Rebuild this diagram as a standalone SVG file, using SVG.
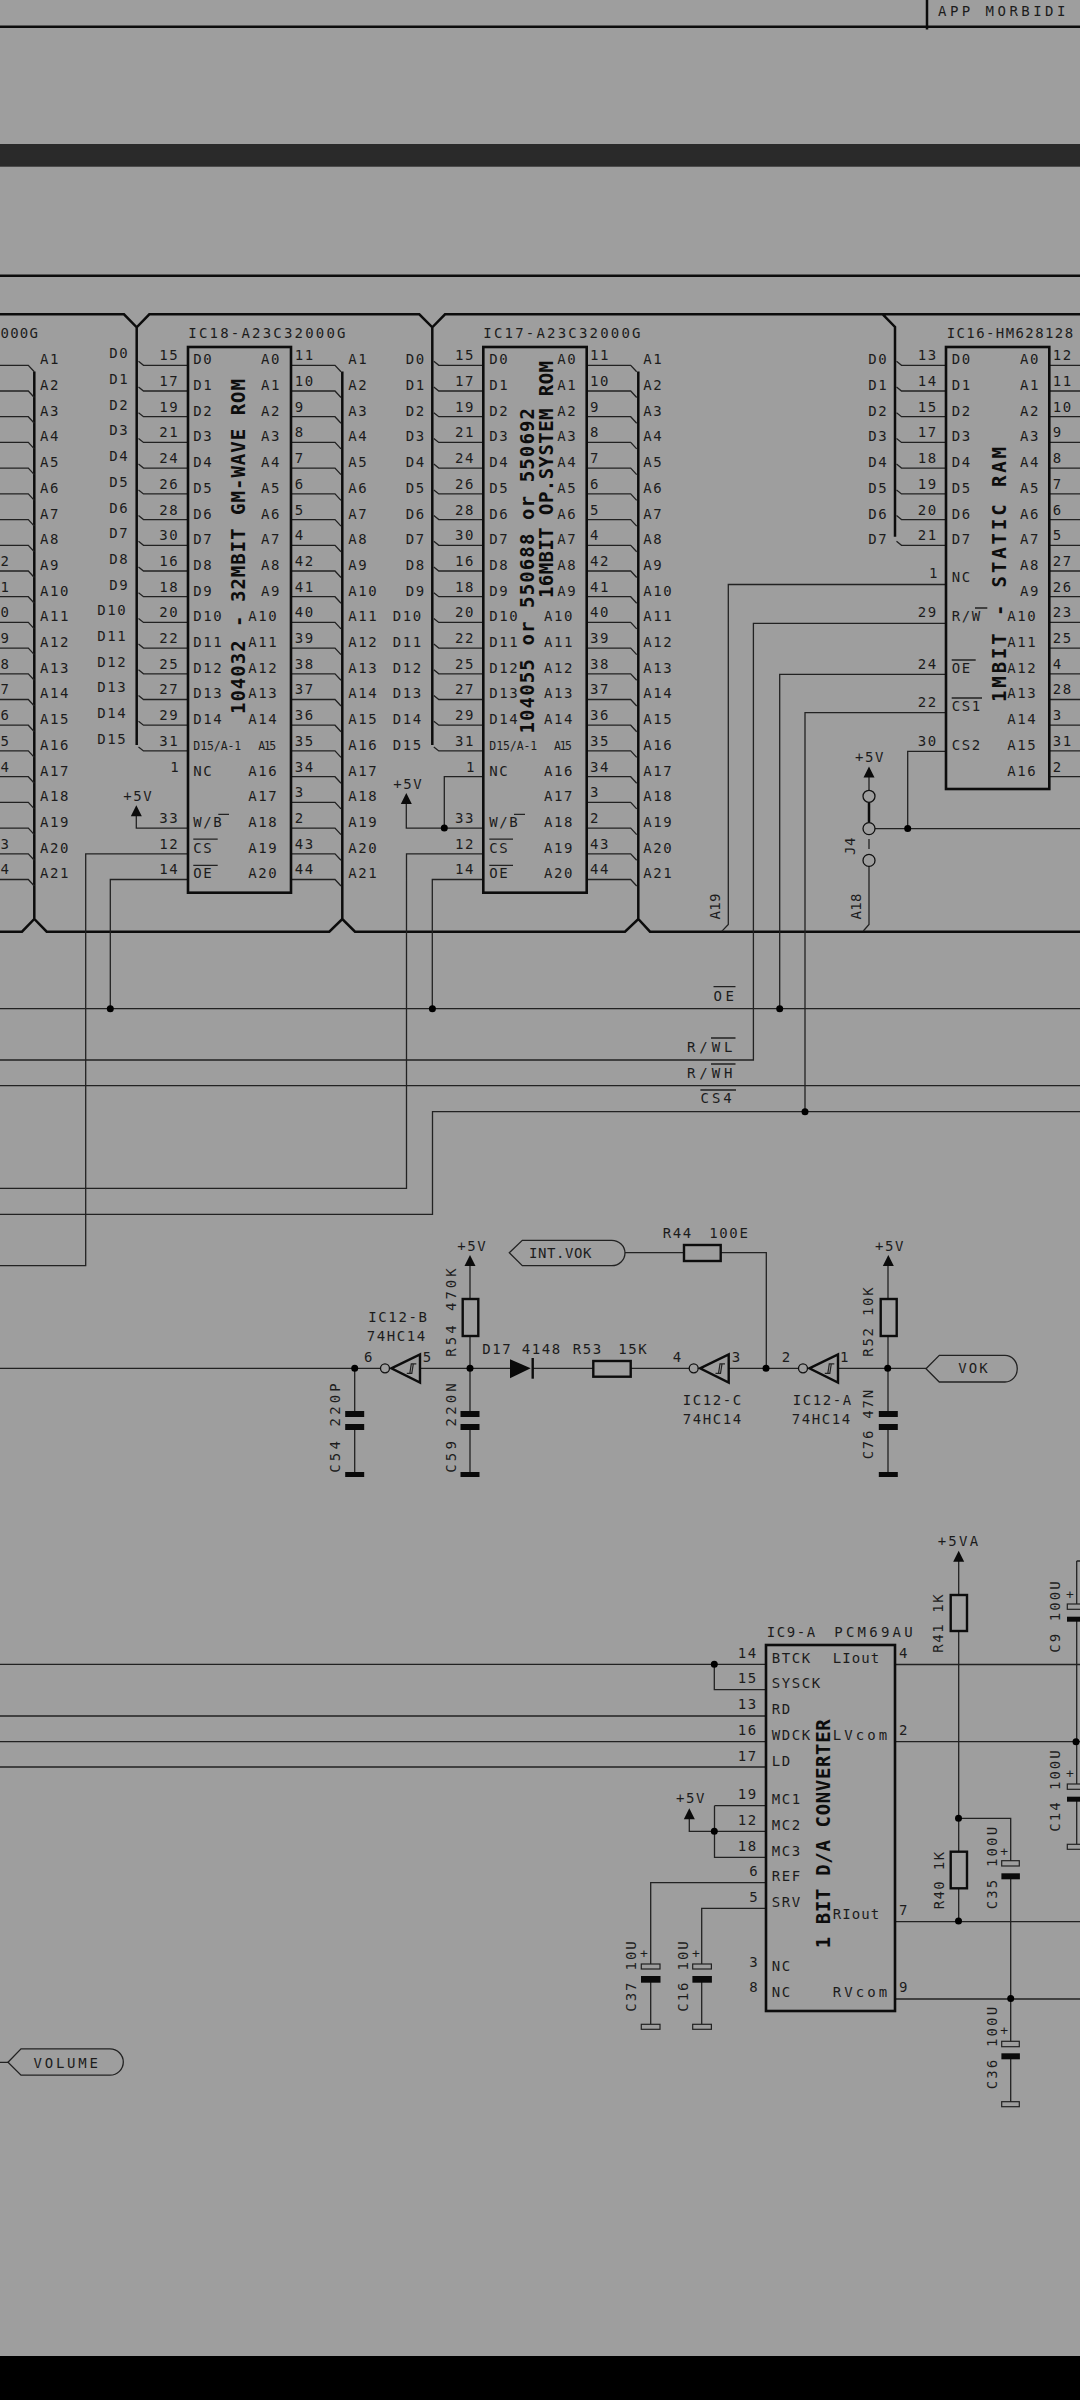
<svg xmlns="http://www.w3.org/2000/svg" xmlns:xlink="http://www.w3.org/1999/xlink" width="1080" height="2400" viewBox="0 0 1080 2400">
<style>
text{font-family:"DejaVu Sans Mono","Liberation Mono",monospace;font-size:14px;letter-spacing:1.6px;fill:#1c1c1c}
.s{font-size:11.5px;letter-spacing:0}
.v{font-size:19px;font-weight:bold;letter-spacing:0;fill:#0d0d0d}
.w{fill:none;stroke:#222;stroke-width:1.3}
.b{fill:none;stroke:#0c0c0c;stroke-width:2.5}
.box{fill:none;stroke:#0c0c0c;stroke-width:2.6}
.r{fill:none;stroke:#0c0c0c;stroke-width:2.4}
.d{fill:#000}
.o{fill:none;stroke:#111;stroke-width:1.3}
.p{fill:#0a0a0a}
.h{fill:none;stroke:#222;stroke-width:1.2}
</style>
<defs>
<path id="pins-r" class="w" d="M0 365.3h44l6 6.5M0 391h44l6 6.5M0 416.7h44l6 6.5M0 442.4h44l6 6.5M0 468.1h44l6 6.5M0 493.9h44l6 6.5M0 519.6h44l6 6.5M0 545.3h44l6 6.5M0 571h44l6 6.5M0 596.7h44l6 6.5M0 622.4h44l6 6.5M0 648.1h44l6 6.5M0 673.8h44l6 6.5M0 699.5h44l6 6.5M0 725.2h44l6 6.5M0 750.9h44l6 6.5M0 776.7h44l6 6.5M0 802.4h44l6 6.5M0 828.1h44l6 6.5M0 853.8h44l6 6.5M0 879.5h44l6 6.5"/>
<path id="pins-l" class="w" d="M0 361.3l5 4h44.5M0 387l5 4h44.5M0 412.7l5 4h44.5M0 438.4l5 4h44.5M0 464.1l5 4h44.5M0 489.9l5 4h44.5M0 515.6l5 4h44.5M0 541.3l5 4h44.5M0 567l5 4h44.5M0 592.7l5 4h44.5M0 618.4l5 4h44.5M0 644.1l5 4h44.5M0 669.8l5 4h44.5M0 695.5l5 4h44.5M0 721.2l5 4h44.5M0 746.9l5 4h44.5"/>
<g id="inv"><polygon class="r" points="0,0 28.7,-14 28.7,14.3"/><circle class="o" cx="-6.3" r="4.5"/><path class="h" d="M15.5 5H20.5L22-4.5M18.5 5L20-4.5H25"/></g>
<path id="up" class="p" d="M0 0l5.5 11h-11z"/>
</defs>
<rect width="1080" height="2400" fill="#9e9e9e"/>
<rect y="144" width="1080" height="22.7" fill="#2a2a2a"/>
<rect y="2356" width="1080" height="44" fill="#000"/>
<path class="b" d="M0 26.7H1080M927 0V29.5M0 275.7H1080"/>
<text x="938" y="15.5" textLength="129">APP MORBIDI</text>

<g id="connectors">
<path class="b" d="M0 314.3H124L136.7 327.3L149.3 314.3H419.3L432.3 327.3L445 314.3H1080M882.7 314.3L895 327V536.7M136.7 327.3V745M432.3 327.3V745M34.3 371.4V919M342.3 371.4V919M638.3 371.4V919M0 931.7H22L34.3 919L46.7 931.7H329.3L342.3 919L355 931.7H625L638.3 919L650 931.7H1080"/>
<use href="#pins-r" x="-15.7"/>
<use href="#pins-r" x="291"/>
<use href="#pins-r" x="586.7"/>
<use href="#pins-l" x="138.5"/>
<use href="#pins-l" x="433.8"/>
<path class="w" d="M896.5 361.3l5 4H946M896.5 387l5 4H946M896.5 412.7l5 4H946M896.5 438.4l5 4H946M896.5 464.1l5 4H946M896.5 489.9l5 4H946M896.5 515.6l5 4H946M896.5 541.3l5 4H946"/>
<path class="w" d="M1049 365.3H1080M1049 391H1080M1049 416.7H1080M1049 442.4H1080M1049 468.1H1080M1049 493.9H1080M1049 519.6H1080M1049 545.3H1080M1049 571H1080M1049 596.7H1080M1049 622.4H1080M1049 648.1H1080M1049 673.8H1080M1049 699.5H1080M1049 725.2H1080M1049 750.9H1080M1049 776.7H1080"/>
<path class="w" d="M136.3 816V828.1H188M188 853.8H85.7V1265.7H0M188 879.5H110.3V1008.7"/>
<path class="w" d="M406.3 804V828.1H483.3M444.3 828.1V776.7H483.3M483.3 853.8H406.5V1188.3H0M483.3 879.5H432.3V1008.7"/>
<path class="w" d="M945 584.5H728.3V924.5L721.7 931.4M945 623.3H753.4V1060H0M945 674.3H779.7V1008.7M945 712.7H805V1111.7M0 1008.7H1080M0 1085.7H1080M1080 1111.7H432.5V1214.3H0"/>
<path class="w" d="M869 777V790.3M869 866.4V924.5L863.3 931M875 828.6H1080M907.7 828.6V751.4H946M869 839V849"/>
<path class="b" d="M869 802.3V822.6"/>
<path class="w" d="M0 1368.3H380.5M420 1368.3H510M532 1368.3H593.3M630.7 1368.3H689M728.3 1368.3H798M837.7 1368.3H926M470 1266V1299M470 1336V1413M470 1427V1474M354.7 1368.3V1413M354.7 1427V1474M888 1266V1299M888 1336V1413M888 1427V1474M625 1252.7H684M720.7 1252.7H766.3V1368.3"/>
<path class="w" d="M0 1664.3H766M714.3 1664.3V1689.7H766M0 1716H766M0 1741.7H766M0 1767H766M714.5 1805.7H766M714.5 1805.7V1857.3H766M689.3 1819V1831.3H766M766 1882.7H650.7V1964M650.7 1980V2024M766 1908.3H701.7V1964M701.7 1980V2024"/>
<path class="w" d="M895 1664.5H1080M895 1741.7H1080M895 1921.7H1080M895 1999H1080M958.7 1561V1595M958.7 1631V1851.7M958.7 1888.3V1921M958.7 1818.3H1010.7V1861M1010.7 1879V2041.3M1010.7 2059V2101.7M1076.7 1561H1080M1076.7 1561V1604M1076.7 1621V1784M1076.7 1801V1844.3M0 2062.3H8"/>
<circle class="d" cx="110.3" cy="1008.7" r="3.5"/>
<circle class="d" cx="432.4" cy="1008.7" r="3.5"/>
<circle class="d" cx="779.7" cy="1008.7" r="3.5"/>
<circle class="d" cx="805" cy="1111.7" r="3.5"/>
<circle class="d" cx="444.3" cy="828.1" r="3.5"/>
<circle class="d" cx="907.7" cy="828.6" r="3.5"/>
<circle class="d" cx="354.7" cy="1368.3" r="3.5"/>
<circle class="d" cx="470" cy="1368.3" r="3.5"/>
<circle class="d" cx="766" cy="1368.3" r="3.5"/>
<circle class="d" cx="887.7" cy="1368.3" r="3.5"/>
<circle class="d" cx="714.3" cy="1664.3" r="3.5"/>
<circle class="d" cx="714.3" cy="1831.3" r="3.5"/>
<circle class="d" cx="958.5" cy="1818.3" r="3.5"/>
<circle class="d" cx="958.5" cy="1921" r="3.5"/>
<circle class="d" cx="1010.7" cy="1998.5" r="3.5"/>
<circle class="d" cx="1076" cy="1741.7" r="3.5"/>
</g>

<g id="ic19-part">
<text x="0.5" y="338" textLength="39">000G</text>
<g transform="translate(0.5 0)"><text y="566">2</text><text y="592">1</text><text y="617">0</text><text y="643">9</text><text y="669">8</text><text y="694">7</text><text y="720">6</text><text y="746">5</text><text y="772">4</text><text y="849">3</text><text y="874">4</text></g>
<g transform="translate(40 0)"><text y="364">A1</text><text y="390">A2</text><text y="416">A3</text><text y="441">A4</text><text y="467">A5</text><text y="493">A6</text><text y="519">A7</text><text y="544">A8</text><text y="570">A9</text><text y="596">A10</text><text y="621">A11</text><text y="647">A12</text><text y="673">A13</text><text y="698">A14</text><text y="724">A15</text><text y="750">A16</text><text y="776">A17</text><text y="801">A18</text><text y="827">A19</text><text y="853">A20</text><text y="878">A21</text></g>
</g>

<g id="ic18">
<rect class="box" x="188" y="347" width="103" height="545.7"/>
<text x="188.3" y="338" style="letter-spacing:2.2px">IC18-A23C32000G</text>
<text class="v" transform="translate(245 714) rotate(-90)" textLength="335">104032 - 32MBIT GM-WAVE ROM</text>
<g transform="translate(109.3 0)"><text y="358">D0</text><text y="384">D1</text><text y="410">D2</text><text y="435">D3</text><text y="461">D4</text><text y="487">D5</text><text y="513">D6</text><text y="538">D7</text><text y="564">D8</text><text y="590">D9</text></g>
<g transform="translate(97.3 0)"><text y="615">D10</text><text y="641">D11</text><text y="667">D12</text><text y="692">D13</text><text y="718">D14</text><text y="744">D15</text></g>
<g transform="translate(159.3 0)"><text y="360">15</text><text y="386">17</text><text y="412">19</text><text y="437">21</text><text y="463">24</text><text y="489">26</text><text y="515">28</text><text y="540">30</text><text y="566">16</text><text y="592">18</text><text y="617">20</text><text y="643">22</text><text y="669">25</text><text y="694">27</text><text y="720">29</text><text y="746">31</text><text x="11" y="772">1</text><text y="823">33</text><text y="849">12</text><text y="874">14</text></g>
<g transform="translate(193.3 0)"><text y="364">D0</text><text y="390">D1</text><text y="416">D2</text><text y="441">D3</text><text y="467">D4</text><text y="493">D5</text><text y="519">D6</text><text y="544">D7</text><text y="570">D8</text><text y="596">D9</text><text y="621">D10</text><text y="647">D11</text><text y="673">D12</text><text y="698">D13</text><text y="724">D14</text><text class="s" y="750" textLength="48">D15/A-1</text><text y="776">NC</text><text y="827">W/B</text><text y="853">CS</text><text y="878">OE</text></g>
<path class="w" d="M218.3 814.3H229M193.3 839.2H217.7M193.3 865.3H217.7"/>
<g transform="translate(261 0)"><text y="364">A0</text><text y="390">A1</text><text y="416">A2</text><text y="441">A3</text><text y="467">A4</text><text y="493">A5</text><text y="519">A6</text><text y="544">A7</text><text y="570">A8</text><text y="596">A9</text></g>
<g transform="translate(248.3 0)"><text y="621">A10</text><text y="647">A11</text><text y="673">A12</text><text y="698">A13</text><text y="724">A14</text><text class="s" x="10" y="750" textLength="18">A15</text><text y="776">A16</text><text y="801">A17</text><text y="827">A18</text><text y="853">A19</text><text y="878">A20</text></g>
<g transform="translate(294.7 0)"><text y="360">11</text><text y="386">10</text><text y="412">9</text><text y="437">8</text><text y="463">7</text><text y="489">6</text><text y="515">5</text><text y="540">4</text><text y="566">42</text><text y="592">41</text><text y="617">40</text><text y="643">39</text><text y="669">38</text><text y="694">37</text><text y="720">36</text><text y="746">35</text><text y="772">34</text><text y="797">3</text><text y="823">2</text><text y="849">43</text><text y="874">44</text></g>
<g transform="translate(348.3 0)"><text y="364">A1</text><text y="390">A2</text><text y="416">A3</text><text y="441">A4</text><text y="467">A5</text><text y="493">A6</text><text y="519">A7</text><text y="544">A8</text><text y="570">A9</text><text y="596">A10</text><text y="621">A11</text><text y="647">A12</text><text y="673">A13</text><text y="698">A14</text><text y="724">A15</text><text y="750">A16</text><text y="776">A17</text><text y="801">A18</text><text y="827">A19</text><text y="853">A20</text><text y="878">A21</text></g>
<use href="#up" x="136.3" y="805.3"/>
<text x="123.3" y="801">+5V</text>
</g>

<g id="ic17">
<rect class="box" x="483.3" y="347" width="103.4" height="545.7"/>
<text x="483.3" y="338" style="letter-spacing:2.2px">IC17-A23C32000G</text>
<text class="v" transform="translate(553.3 598) rotate(-90)" textLength="237">16MBIT OP.SYSTEM ROM</text>
<text class="v" transform="translate(534 733.5) rotate(-90)" textLength="325.5">104055 or 550688 or 550692</text>
<g transform="translate(405.7 0)"><text y="364">D0</text><text y="390">D1</text><text y="416">D2</text><text y="441">D3</text><text y="467">D4</text><text y="493">D5</text><text y="519">D6</text><text y="544">D7</text><text y="570">D8</text><text y="596">D9</text></g>
<g transform="translate(392.7 0)"><text y="621">D10</text><text y="647">D11</text><text y="673">D12</text><text y="698">D13</text><text y="724">D14</text><text y="750">D15</text></g>
<g transform="translate(455 0)"><text y="360">15</text><text y="386">17</text><text y="412">19</text><text y="437">21</text><text y="463">24</text><text y="489">26</text><text y="515">28</text><text y="540">30</text><text y="566">16</text><text y="592">18</text><text y="617">20</text><text y="643">22</text><text y="669">25</text><text y="694">27</text><text y="720">29</text><text y="746">31</text><text x="11" y="772">1</text><text y="823">33</text><text y="849">12</text><text y="874">14</text></g>
<g transform="translate(489.3 0)"><text y="364">D0</text><text y="390">D1</text><text y="416">D2</text><text y="441">D3</text><text y="467">D4</text><text y="493">D5</text><text y="519">D6</text><text y="544">D7</text><text y="570">D8</text><text y="596">D9</text><text y="621">D10</text><text y="647">D11</text><text y="673">D12</text><text y="698">D13</text><text y="724">D14</text><text class="s" y="750" textLength="48">D15/A-1</text><text y="776">NC</text><text y="827">W/B</text><text y="853">CS</text><text y="878">OE</text></g>
<path class="w" d="M514 814.3H525M489.3 839.2H513M489.3 865.3H513"/>
<g transform="translate(557.3 0)"><text y="364">A0</text><text y="390">A1</text><text y="416">A2</text><text y="441">A3</text><text y="467">A4</text><text y="493">A5</text><text y="519">A6</text><text y="544">A7</text><text y="570">A8</text><text y="596">A9</text></g>
<g transform="translate(544 0)"><text y="621">A10</text><text y="647">A11</text><text y="673">A12</text><text y="698">A13</text><text y="724">A14</text><text class="s" x="10" y="750" textLength="18">A15</text><text y="776">A16</text><text y="801">A17</text><text y="827">A18</text><text y="853">A19</text><text y="878">A20</text></g>
<g transform="translate(590 0)"><text y="360">11</text><text y="386">10</text><text y="412">9</text><text y="437">8</text><text y="463">7</text><text y="489">6</text><text y="515">5</text><text y="540">4</text><text y="566">42</text><text y="592">41</text><text y="617">40</text><text y="643">39</text><text y="669">38</text><text y="694">37</text><text y="720">36</text><text y="746">35</text><text y="772">34</text><text y="797">3</text><text y="823">2</text><text y="849">43</text><text y="874">44</text></g>
<g transform="translate(643.3 0)"><text y="364">A1</text><text y="390">A2</text><text y="416">A3</text><text y="441">A4</text><text y="467">A5</text><text y="493">A6</text><text y="519">A7</text><text y="544">A8</text><text y="570">A9</text><text y="596">A10</text><text y="621">A11</text><text y="647">A12</text><text y="673">A13</text><text y="698">A14</text><text y="724">A15</text><text y="750">A16</text><text y="776">A17</text><text y="801">A18</text><text y="827">A19</text><text y="853">A20</text><text y="878">A21</text></g>
<use href="#up" x="406.3" y="793"/>
<text x="393.3" y="788.6">+5V</text>
</g>

<g id="ic16">
<rect class="box" x="946" y="347" width="103.3" height="442"/>
<text x="946.7" y="338" textLength="128">IC16-HM628128</text>
<text class="v" transform="translate(1006 702) rotate(-90)" textLength="255">1MBIT - STATIC RAM</text>
<g transform="translate(868.3 0)"><text y="364">D0</text><text y="390">D1</text><text y="416">D2</text><text y="441">D3</text><text y="467">D4</text><text y="493">D5</text><text y="519">D6</text><text y="544">D7</text></g>
<g transform="translate(917.7 0)"><text y="360">13</text><text y="386">14</text><text y="412">15</text><text y="437">17</text><text y="463">18</text><text y="489">19</text><text y="515">20</text><text y="540">21</text><text x="11.3" y="578.4">1</text><text y="617">29</text><text y="668.6">24</text><text y="707.3">22</text><text y="745.7">30</text></g>
<g transform="translate(951.7 0)"><text y="364">D0</text><text y="390">D1</text><text y="416">D2</text><text y="441">D3</text><text y="467">D4</text><text y="493">D5</text><text y="519">D6</text><text y="544">D7</text><text y="582.4">NC</text><text y="621">R/W</text><text y="672.7">OE</text><text y="711">CS1</text><text y="749.8">CS2</text></g>
<path class="w" d="M975 608H987.3M951.7 660H975.7M951.7 698H982"/>
<g transform="translate(1020 0)"><text y="364">A0</text><text y="390">A1</text><text y="416">A2</text><text y="441">A3</text><text y="467">A4</text><text y="493">A5</text><text y="519">A6</text><text y="544">A7</text><text y="570">A8</text><text y="596">A9</text></g>
<g transform="translate(1007.3 0)"><text y="621">A10</text><text y="647">A11</text><text y="673">A12</text><text y="698">A13</text><text y="724">A14</text><text y="750">A15</text><text y="776">A16</text></g>
<g transform="translate(1052.7 0)"><text y="360">12</text><text y="386">11</text><text y="412">10</text><text y="437">9</text><text y="463">8</text><text y="489">7</text><text y="515">6</text><text y="540">5</text><text y="566">27</text><text y="592">26</text><text y="617">23</text><text y="643">25</text><text y="669">4</text><text y="694">28</text><text y="720">3</text><text y="746">31</text><text y="772">2</text></g>
</g>

<g id="j4">
<use href="#up" x="869" y="766.5"/>
<text x="855" y="762.4">+5V</text>
<circle class="o" cx="869" cy="796.3" r="6"/>
<circle class="o" cx="869" cy="828.6" r="6"/>
<circle class="o" cx="869" cy="860.4" r="6"/>
<text transform="translate(855 855) rotate(-90)" textLength="19">J4</text>
<text transform="translate(861 919.6) rotate(-90)" style="letter-spacing:0" textLength="26">A18</text>
</g>
<text id="a19" transform="translate(720 919.6) rotate(-90)" style="letter-spacing:0" textLength="26">A19</text>

<g id="bus-labels">
<text x="713.5" y="1000.7" textLength="22">OE</text>
<text x="687" y="1052" textLength="47">R/WL</text>
<text x="687" y="1077.7" textLength="47">R/WH</text>
<text x="700.4" y="1103.3" textLength="33">CS4</text>
<path class="w" d="M713.5 986.7H735.5M711 1038H735.5M711 1064H735.5M700.4 1090H736"/>
</g>

<g id="ic12b">
<use href="#inv" x="391.3" y="1368.3"/>
<text x="368.3" y="1321.7">IC12-B</text>
<text x="366.7" y="1341.3">74HC14</text>
<text x="364" y="1362.3">6</text>
<text x="422.7" y="1362.3">5</text>
</g>
<g id="c54">
<rect class="p" x="345.2" y="1411" width="19" height="6"/><rect class="p" x="345.2" y="1424" width="19" height="6"/><rect class="p" x="345.2" y="1472" width="19" height="5"/>
<text transform="translate(340 1472.7) rotate(-90)" textLength="91">C54 220P</text>
</g>
<g id="c59">
<rect class="p" x="460.5" y="1411" width="19" height="6"/><rect class="p" x="460.5" y="1424" width="19" height="6"/><rect class="p" x="460.5" y="1472" width="19" height="5"/>
<text transform="translate(456 1472.7) rotate(-90)" textLength="91">C59 220N</text>
</g>
<g id="r54">
<rect class="r" x="462.7" y="1299" width="15.6" height="37"/>
<use href="#up" x="470" y="1255"/>
<text x="457.3" y="1251">+5V</text>
<text transform="translate(456 1356.7) rotate(-90)" textLength="90">R54 470K</text>
</g>
<g id="d17">
<path class="p" d="M510 1359.3V1378.3L530.7 1368.3Z"/>
<path class="r" d="M532.7 1358V1378.7"/>
<text x="482.3" y="1354">D17</text>
<text x="521.7" y="1354">4148</text>
</g>
<g id="r53">
<rect class="r" x="593.3" y="1361" width="37.4" height="15.7"/>
<text x="572.7" y="1354">R53</text>
<text x="618.3" y="1354">15K</text>
</g>
<g id="ic12c">
<use href="#inv" x="700" y="1368.3"/>
<text x="672.7" y="1362.3">4</text>
<text x="731.7" y="1362.3">3</text>
<text x="682.7" y="1405">IC12-C</text>
<text x="682.7" y="1424.3">74HC14</text>
</g>
<g id="ic12a">
<use href="#inv" x="809.3" y="1368.3"/>
<text x="781.7" y="1362.3">2</text>
<text x="840" y="1362.3">1</text>
<text x="792.7" y="1405">IC12-A</text>
<text x="791.7" y="1424.3">74HC14</text>
</g>
<g id="int-vok">
<path class="w" d="M509.3 1252.7L522.3 1240.3H611.7A13.3 12.7 0 0 1 611.7 1265.7H522.3Z"/>
<text x="529" y="1258.3" textLength="64">INT.VOK</text>
</g>
<g id="r44">
<rect class="r" x="684" y="1245" width="36.7" height="16"/>
<text x="662.7" y="1237.7">R44</text>
<text x="709.3" y="1237.7">100E</text>
</g>
<g id="r52">
<rect class="r" x="880.7" y="1299" width="16" height="37"/>
<use href="#up" x="888.3" y="1255"/>
<text x="875" y="1251">+5V</text>
<text transform="translate(873.3 1356.7) rotate(-90)" textLength="71">R52 10K</text>
</g>
<g id="c76">
<rect class="p" x="878.8" y="1411" width="19" height="6"/><rect class="p" x="878.8" y="1424" width="19" height="6"/><rect class="p" x="878.8" y="1472" width="19" height="5"/>
<text transform="translate(873.3 1459.3) rotate(-90)" textLength="71">C76 47N</text>
</g>
<g id="vok">
<path class="w" d="M926 1368.7L939.3 1355.3H1005A12.3 13.35 0 0 1 1005 1382H939.3Z"/>
<text x="958.3" y="1373.3" textLength="31">VOK</text>
</g>
<g id="volume">
<path class="w" d="M8 2062.3L21 2048.9H110A13.3 13.15 0 0 1 110 2075.2H21Z"/>
<text x="33.5" y="2067.8" textLength="66">VOLUME</text>
</g>

<g id="ic9">
<rect class="box" x="766" y="1645" width="129" height="366"/>
<text x="766.7" y="1636.7">IC9-A</text>
<text x="834.3" y="1636.7" textLength="80">PCM69AU</text>
<text class="v" transform="translate(830 1948.3) rotate(-90)" textLength="229">1 BIT D/A CONVERTER</text>
<g transform="translate(737.7 0)"><text y="1657.7">14</text><text y="1683.3">15</text><text y="1709.3">13</text><text y="1735">16</text><text y="1760.7">17</text><text y="1799">19</text><text y="1825">12</text><text y="1850.7">18</text><text x="11.6" y="1876">6</text><text x="11.6" y="1902.3">5</text><text x="11.6" y="1966.7">3</text><text x="11.6" y="1992.3">8</text></g>
<g transform="translate(771.7 0)"><text y="1662.7">BTCK</text><text y="1688.3">SYSCK</text><text y="1714">RD</text><text y="1740">WDCK</text><text y="1765.7">LD</text><text y="1804.3">MC1</text><text y="1830">MC2</text><text y="1855.7">MC3</text><text y="1881.3">REF</text><text y="1907">SRV</text><text y="1971.3">NC</text><text y="1997">NC</text></g>
<g transform="translate(832.7 0)"><text y="1662.7" textLength="48">LIout</text><text y="1740" textLength="56">LVcom</text><text y="1919.3" textLength="48">RIout</text><text y="1996.7" textLength="56">RVcom</text></g>
<g transform="translate(899 0)"><text y="1657.7">4</text><text y="1735">2</text><text y="1915">7</text><text y="1992.3">9</text></g>
<use href="#up" x="689.3" y="1808.3"/>
<text x="676" y="1803.3">+5V</text>
</g>
<g id="c37">
<rect class="h" x="641.3" y="1964" width="18.7" height="5"/><rect class="p" x="641" y="1976" width="19.5" height="6.7"/><rect class="h" x="641.3" y="2024.3" width="18.7" height="5"/>
<text x="640" y="1958" class="s" style="font-size:13px">+</text>
<text transform="translate(636 2011.7) rotate(-90)" textLength="72">C37 10U</text>
</g>
<g id="c16">
<rect class="h" x="692.7" y="1964" width="18.7" height="5"/><rect class="p" x="692.4" y="1976" width="19.5" height="6.7"/><rect class="h" x="692.7" y="2024.3" width="18.7" height="5"/>
<text x="692" y="1958" class="s" style="font-size:13px">+</text>
<text transform="translate(687.7 2011.7) rotate(-90)" textLength="72">C16 10U</text>
</g>
<g id="r41">
<rect class="r" x="950.7" y="1595" width="16.3" height="36"/>
<use href="#up" x="958.7" y="1550.7"/>
<text x="937.7" y="1546" textLength="42">+5VA</text>
<text transform="translate(943.3 1652.7) rotate(-90)" textLength="60">R41 1K</text>
</g>
<g id="r40">
<rect class="r" x="950.7" y="1851.7" width="16.3" height="36.6"/>
<text transform="translate(944.3 1909.3) rotate(-90)" textLength="59">R40 1K</text>
</g>
<g id="c35">
<rect class="h" x="1001.7" y="1860.7" width="17.6" height="5.3"/><rect class="p" x="1001.4" y="1873.3" width="18.5" height="6"/>
<text x="1000.3" y="1855.5" class="s" style="font-size:13px">+</text>
<text transform="translate(996.7 1909.3) rotate(-90)" textLength="84">C35 100U</text>
</g>
<g id="c36">
<rect class="h" x="1001.7" y="2041.3" width="17.6" height="5.4"/><rect class="p" x="1001.4" y="2053.3" width="18.5" height="6"/><rect class="h" x="1001.7" y="2101.7" width="17.6" height="5"/>
<text x="1000.3" y="2035" class="s" style="font-size:13px">+</text>
<text transform="translate(996.7 2089.3) rotate(-90)" textLength="84">C36 100U</text>
</g>
<g id="c9">
<rect class="h" x="1067.3" y="1604" width="18.7" height="5.3"/><rect class="p" x="1067" y="1616.7" width="19" height="5"/>
<text x="1066" y="1598.5" class="s" style="font-size:13px">+</text>
<text transform="translate(1060 1652.7) rotate(-90)" textLength="73">C9  100U</text>
</g>
<g id="c14">
<rect class="h" x="1067.3" y="1784" width="18.7" height="5.3"/><rect class="p" x="1067" y="1796.7" width="19" height="5"/><rect class="h" x="1067.3" y="1844.3" width="18.7" height="5"/>
<text x="1066" y="1777.8" class="s" style="font-size:13px">+</text>
<text transform="translate(1060 1831.7) rotate(-90)" textLength="83">C14 100U</text>
</g>
</svg>
